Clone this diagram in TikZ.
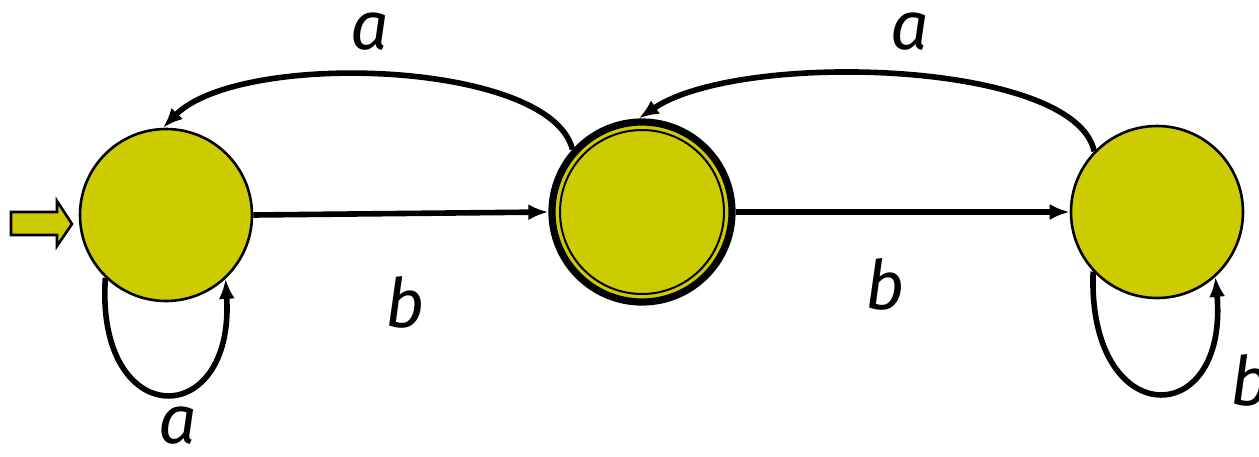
\documentclass[tikz,border=0pt]{standalone}
\usepackage{fontspec}
\newfontfamily\lblfont{Fira Sans}
\usepackage{xcolor}
\usetikzlibrary{arrows.meta,positioning}
\definecolor{stateyellow}{RGB}{204,204,0}

\begin{document}
\begin{tikzpicture}[
    x=0.5pt, y=-0.5pt,
    state/.style={
        circle,
        draw=black,
        line width=1.3pt,
        fill=stateyellow,
        minimum size=86pt,
        inner sep=0pt
    },
    final/.style={
        state,
        line width=3.6pt,
        minimum size=90pt
    },
    inner/.style={
        circle,
        draw=black,
        line width=1pt,
        minimum size=82pt,
        inner sep=0pt
    },
    arrow/.style={-{Latex[length=10pt,width=8pt]}, line width=2.8pt},
    lbl/.style={inner sep=0pt, font=\lblfont\itshape\fontsize{34}{40}\selectfont}
]
\useasboundingbox (0,0) rectangle (1259,456);

% States
\node[state] (q0) at (166, 215) {};
\node[final] (q1) at (642, 212) {};
\node[inner] (q1in) at (q1) {};
\node[state] (q2) at (1157, 212) {};

% Start arrow
\coordinate (tip) at (72, 224);
\draw[fill=stateyellow, line width=1.3pt, line join=miter]
    (tip) -- ++(-15,-23) -- ++(0,11) -- ++(-46,0) -- ++(0,23)
    -- ++(46,0) -- ++(0,11) -- cycle;

% Transitions
\draw[arrow] (q0.east) -- (q1.west);
\draw[arrow] (q1.east) -- (q2.west);
\draw[arrow] (q1.138) .. controls (550, 60) and (240, 50) .. (q0.92);
\draw[arrow] (q2.136) .. controls (1075, 60) and (740, 50) .. (q1.92);
\draw[arrow] (q0.226) .. controls (95, 432) and (235, 432) .. (q0.313);
\draw[arrow] (q2.223) .. controls (1087, 432) and (1229, 432) .. (q2.312);

% Labels
\node[lbl] (la1) at (370, 32) {a};
\node[lbl] (la2) at (910, 32) {a};
\node[lbl] (lb1) at (405, 302) {b};
\node[lbl] (lb2) at (885, 284) {b};
\node[lbl] (la3) at (178, 426) {a};
\node[lbl] (lb3) at (1250, 380) {b};

\end{tikzpicture}
\end{document}
